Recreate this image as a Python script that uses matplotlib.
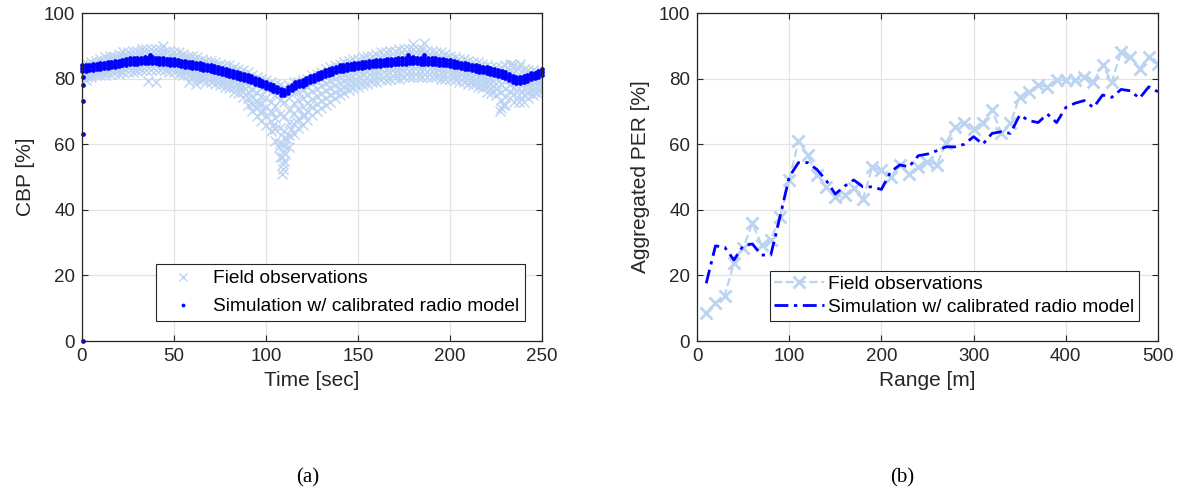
import numpy as np
import matplotlib
matplotlib.use("Agg")
import matplotlib.pyplot as plt

plt.rcParams['font.family'] = ['Liberation Sans', 'DejaVu Sans']

field_color = '#bcd4f2'
sim_color = '#0000ff'
ink = '#262626'

# ---- (a) CBP over time ----
# field observations, 6 samples every 2.5 s
field_time = np.arange(0, 250.1, 2.5)
field_cbp = [
    [80.5, 81.3, 82.0, 82.8, 83.4, 84.0],
    [80.6, 81.4, 82.2, 82.9, 83.8, 84.5],
    [80.5, 81.5, 82.4, 83.2, 84.1, 85.0],
    [81.0, 81.8, 82.7, 83.6, 84.6, 85.5],
    [81.1, 82.0, 83.0, 84.0, 85.0, 86.0],
    [81.0, 82.1, 83.2, 84.3, 85.4, 86.5],
    [81.5, 82.6, 83.7, 84.8, 85.9, 87.0],
    [81.6, 82.7, 83.8, 84.9, 86.0, 87.0],
    [81.5, 82.7, 83.9, 85.1, 86.3, 87.5],
    [82.0, 83.2, 84.4, 85.6, 86.8, 88.0],
    [82.1, 83.3, 84.5, 85.7, 86.9, 88.0],
    [82.0, 83.3, 84.6, 85.9, 87.2, 88.5],
    [82.2, 83.4, 84.7, 86.0, 87.3, 88.5],
    [82.5, 83.8, 85.1, 86.4, 87.7, 89.0],
    [82.6, 83.9, 85.2, 86.5, 87.8, 89.0],
    [82.5, 83.8, 85.1, 86.4, 87.7, 89.0],
    [82.7, 84.0, 85.3, 86.5, 87.8, 89.0],
    [82.5, 83.8, 85.0, 86.3, 87.7, 88.9],
    [82.5, 83.7, 84.9, 86.1, 87.3, 88.5],
    [82.0, 83.3, 84.6, 85.9, 87.2, 88.5],
    [82.1, 83.3, 84.5, 85.6, 86.8, 88.0],
    [81.5, 82.8, 84.1, 85.4, 86.7, 88.0],
    [81.0, 82.3, 83.6, 84.9, 86.2, 87.5],
    [81.1, 82.3, 83.5, 84.7, 85.9, 87.0],
    [80.5, 81.8, 83.1, 84.4, 85.7, 87.0],
    [80.0, 81.3, 82.6, 83.9, 85.2, 86.5],
    [79.5, 80.8, 82.1, 83.4, 84.7, 86.0],
    [79.1, 80.4, 81.6, 82.9, 84.2, 85.5],
    [79.0, 80.3, 81.6, 82.9, 84.2, 85.5],
    [78.5, 79.8, 81.1, 82.4, 83.7, 85.0],
    [78.0, 79.3, 80.6, 81.9, 83.2, 84.5],
    [77.5, 78.8, 80.1, 81.4, 82.7, 84.0],
    [77.1, 78.4, 79.8, 81.2, 82.6, 84.0],
    [76.0, 77.5, 79.0, 80.5, 82.0, 83.5],
    [75.5, 77.0, 78.5, 80.0, 81.5, 83.0],
    [74.5, 76.1, 77.7, 79.3, 80.9, 82.5],
    [72.0, 74.0, 76.0, 78.0, 80.0, 82.0],
    [70.0, 72.2, 74.4, 76.6, 78.8, 81.0],
    [68.5, 70.9, 73.3, 75.7, 78.1, 80.5],
    [67.0, 69.6, 72.2, 74.8, 77.4, 80.0],
    [66.0, 68.7, 71.4, 74.1, 76.8, 79.5],
    [64.0, 67.0, 70.0, 73.0, 76.0, 79.0],
    [61.0, 64.5, 68.0, 71.5, 75.0, 78.5],
    [56.0, 60.4, 64.8, 69.2, 73.6, 78.0],
    [55.0, 59.5, 64.0, 68.5, 73.0, 77.5],
    [59.0, 62.8, 66.6, 70.4, 74.2, 78.0],
    [63.0, 66.2, 69.4, 72.6, 75.8, 79.0],
    [65.0, 67.8, 70.6, 73.4, 76.2, 79.0],
    [66.0, 68.7, 71.4, 74.1, 76.8, 79.5],
    [67.5, 70.0, 72.5, 75.0, 77.5, 80.0],
    [69.0, 71.4, 73.8, 76.2, 78.6, 81.0],
    [70.0, 72.3, 74.6, 76.9, 79.2, 81.5],
    [71.0, 73.2, 75.4, 77.6, 79.8, 82.0],
    [72.0, 74.2, 76.4, 78.6, 80.8, 83.0],
    [73.0, 75.1, 77.2, 79.3, 81.4, 83.5],
    [74.0, 76.0, 78.0, 80.0, 82.0, 84.0],
    [75.0, 76.9, 78.8, 80.7, 82.6, 84.5],
    [75.5, 77.4, 79.3, 81.2, 83.1, 85.0],
    [76.5, 78.3, 80.1, 81.9, 83.7, 85.5],
    [77.0, 78.8, 80.6, 82.4, 84.2, 86.0],
    [77.5, 79.2, 80.9, 82.6, 84.3, 86.0],
    [78.0, 79.7, 81.4, 83.1, 84.8, 86.5],
    [78.5, 80.2, 81.9, 83.6, 85.3, 87.0],
    [79.0, 80.6, 82.2, 83.8, 85.4, 87.0],
    [79.0, 80.7, 82.4, 84.1, 85.8, 87.5],
    [79.5, 81.2, 82.9, 84.6, 86.3, 88.0],
    [79.6, 81.3, 83.0, 84.7, 86.4, 88.0],
    [80.0, 81.7, 83.4, 85.1, 86.8, 88.5],
    [80.1, 81.8, 83.5, 85.2, 86.9, 88.5],
    [80.0, 81.8, 83.6, 85.4, 87.2, 89.0],
    [80.5, 82.2, 83.9, 85.6, 87.3, 89.0],
    [80.6, 82.3, 84.0, 85.7, 87.4, 89.0],
    [80.5, 82.2, 83.9, 85.6, 87.3, 89.0],
    [80.6, 82.3, 84.0, 85.7, 87.4, 89.1],
    [80.5, 82.2, 83.9, 85.6, 87.3, 89.0],
    [80.5, 82.1, 83.7, 85.3, 86.9, 88.5],
    [80.6, 82.2, 83.8, 85.4, 87.0, 88.5],
    [80.5, 82.0, 83.5, 85.0, 86.5, 88.0],
    [80.0, 81.6, 83.2, 84.8, 86.4, 88.0],
    [80.0, 81.5, 83.0, 84.5, 86.0, 87.5],
    [80.0, 81.4, 82.8, 84.2, 85.6, 87.0],
    [79.5, 80.9, 82.3, 83.7, 85.1, 86.5],
    [79.0, 80.4, 81.8, 83.2, 84.6, 86.0],
    [79.1, 80.5, 81.9, 83.2, 84.6, 86.0],
    [78.5, 79.9, 81.3, 82.7, 84.1, 85.5],
    [78.0, 79.4, 80.8, 82.2, 83.6, 85.0],
    [77.5, 79.0, 80.5, 82.0, 83.5, 85.0],
    [77.0, 78.5, 80.0, 81.5, 83.0, 84.5],
    [76.0, 77.6, 79.2, 80.8, 82.4, 84.0],
    [75.5, 77.1, 78.7, 80.3, 81.9, 83.5],
    [75.0, 76.7, 78.4, 80.1, 81.8, 83.5],
    [71.0, 73.5, 76.0, 78.5, 81.0, 83.5],
    [72.0, 74.4, 76.8, 79.2, 81.6, 84.0],
    [74.0, 76.0, 78.0, 80.0, 82.0, 84.0],
    [73.0, 75.2, 77.4, 79.6, 81.8, 84.0],
    [73.0, 75.1, 77.2, 79.3, 81.4, 83.5],
    [73.0, 75.0, 77.0, 79.0, 81.0, 83.0],
    [74.0, 75.7, 77.4, 79.1, 80.8, 82.5],
    [75.0, 76.5, 78.0, 79.5, 81.0, 82.5],
    [75.5, 76.8, 78.1, 79.4, 80.7, 82.0],
    [76.0, 77.2, 78.4, 79.6, 80.8, 82.0],
]
# scattered field samples off the main band
field_extra_time = [108.5, 109.0, 109.5, 108.8, 109.3, 109.0, 109.6, 110.5, 107.0, 111.5,
                    104.0, 113.5, 103.0, 116.5, 98.0, 121.0, 95.5, 124.0, 36.0, 40.0,
                    58.0, 62.0, 180.0, 186.0, 227.0, 229.0, 233.0, 238.0, 2.0, 44.0]
field_extra_cbp = [51.0, 52.5, 54.0, 56.0, 58.0, 60.0, 62.0, 57.0, 59.0, 61.5,
                   66.0, 64.5, 69.5, 67.0, 70.5, 69.0, 72.5, 72.0, 79.2, 79.0,
                   79.0, 78.5, 90.5, 90.8, 70.0, 72.0, 84.5, 84.6, 79.5, 90.0]

# simulation, 3 nodes every 2 s
sim_time = np.arange(0, 251, 2)
sim_cbp = [
    [82.4, 83.2, 84.0], [82.4, 83.3, 84.2], [82.6, 83.4, 84.3], [82.6, 83.5, 84.4],
    [82.8, 83.7, 84.5], [82.9, 83.8, 84.7], [83.1, 84.0, 84.8], [83.2, 84.1, 85.0],
    [83.4, 84.3, 85.1], [83.6, 84.5, 85.4], [83.8, 84.7, 85.5], [84.0, 84.9, 85.8],
    [84.3, 85.2, 86.0], [84.5, 85.4, 86.3], [84.6, 85.5, 86.3], [84.6, 85.5, 86.4],
    [84.7, 85.6, 86.4], [84.7, 85.6, 86.5], [84.8, 85.6, 86.4], [84.7, 85.6, 86.5],
    [84.7, 85.6, 86.4], [84.6, 85.5, 86.4], [84.6, 85.4, 86.3], [84.4, 85.3, 86.1],
    [84.3, 85.2, 86.1], [84.2, 85.1, 85.9], [84.0, 84.9, 85.8], [83.8, 84.7, 85.5],
    [83.6, 84.5, 85.4], [83.5, 84.4, 85.2], [83.3, 84.2, 85.1], [83.1, 84.0, 84.8],
    [82.9, 83.8, 84.7], [82.7, 83.6, 84.4], [82.5, 83.4, 84.3], [82.3, 83.2, 84.0],
    [82.1, 83.0, 83.9], [81.8, 82.7, 83.5], [81.5, 82.4, 83.3], [81.2, 82.1, 82.9],
    [80.9, 81.8, 82.7], [80.6, 81.5, 82.3], [80.3, 81.2, 82.1], [80.0, 80.9, 81.7],
    [79.7, 80.6, 81.5], [79.4, 80.3, 81.1], [79.0, 79.9, 80.8], [78.5, 79.4, 80.2],
    [78.1, 79.0, 79.9], [77.6, 78.5, 79.3], [77.2, 78.1, 79.0], [76.8, 77.7, 78.5],
    [76.3, 77.2, 78.1], [75.8, 76.7, 77.5], [75.1, 76.0, 76.9], [74.9, 75.8, 76.6],
    [75.6, 76.5, 77.4], [76.4, 77.3, 78.1], [77.1, 78.0, 78.9], [77.6, 78.5, 79.3],
    [77.9, 78.8, 79.7], [78.4, 79.3, 80.1], [78.9, 79.8, 80.7], [79.3, 80.2, 81.0],
    [79.8, 80.7, 81.6], [80.3, 81.2, 82.0], [80.7, 81.6, 82.5], [81.1, 82.0, 82.8],
    [81.5, 82.4, 83.3], [81.9, 82.8, 83.6], [82.2, 83.1, 84.0], [82.4, 83.3, 84.1],
    [82.6, 83.5, 84.4], [82.8, 83.7, 84.5], [83.0, 83.9, 84.8], [83.1, 84.0, 84.8],
    [83.2, 84.1, 85.0], [83.4, 84.3, 85.1], [83.5, 84.4, 85.3], [83.7, 84.6, 85.4],
    [83.8, 84.7, 85.6], [83.9, 84.8, 85.6], [84.0, 84.9, 85.8], [84.2, 85.1, 85.9],
    [84.3, 85.2, 86.1], [84.4, 85.3, 86.1], [84.5, 85.4, 86.3], [84.6, 85.5, 86.3],
    [84.6, 85.5, 86.4], [84.7, 85.6, 86.4], [84.7, 85.6, 86.5], [84.7, 85.6, 86.4],
    [84.6, 85.5, 86.4], [84.6, 85.5, 86.3], [84.5, 85.4, 86.3], [84.5, 85.4, 86.2],
    [84.4, 85.3, 86.2], [84.3, 85.2, 86.0], [84.1, 85.0, 85.9], [84.0, 84.9, 85.7],
    [83.8, 84.7, 85.6], [83.6, 84.5, 85.3], [83.4, 84.3, 85.2], [83.2, 84.1, 84.9],
    [83.0, 83.9, 84.8], [82.8, 83.7, 84.5], [82.5, 83.4, 84.3], [82.3, 83.2, 84.0],
    [82.1, 83.0, 83.9], [81.9, 82.8, 83.6], [81.7, 82.6, 83.5], [81.5, 82.4, 83.2],
    [81.2, 82.1, 83.0], [80.9, 81.8, 82.6], [80.6, 81.5, 82.4], [80.3, 81.2, 82.0],
    [79.7, 80.6, 81.5], [79.1, 80.0, 80.8], [78.6, 79.5, 80.4], [78.8, 79.7, 80.5],
    [79.1, 80.0, 80.9], [79.4, 80.3, 81.1], [79.8, 80.7, 81.6], [80.1, 81.0, 81.8],
    [80.6, 81.5, 82.4], [81.1, 82.0, 82.8],
]
# start-up transient and a few stray nodes
sim_extra_time = [0.3, 0.3, 0.3, 0.3, 0.3, 37.0, 177.0, 186.0]
sim_extra_cbp = [0.0, 63.2, 73.2, 78.0, 80.5, 87.3, 87.2, 87.1]

# ---- (b) aggregated PER over range ----
range_m = np.arange(10, 501, 10)
field_per = [8.6, 11.5, 13.8, 23.7, 28.3, 35.9, 29.3, 30.8, 37.9, 49.0,
             61.0, 56.7, 50.6, 47.0, 43.8, 44.5, 46.5, 43.3, 53.0, 52.0,
             50.0, 53.7, 51.0, 53.0, 54.7, 53.7, 60.5, 65.3, 66.4, 64.5,
             66.4, 70.4, 63.5, 66.5, 74.5, 76.0, 78.0, 77.5, 79.6, 79.6,
             79.6, 80.4, 79.0, 84.0, 79.0, 88.2, 86.7, 83.0, 86.7, 84.5]
sim_per = [17.6, 29.0, 28.6, 24.7, 29.0, 29.6, 26.2, 26.2, 37.9, 50.0,
           54.4, 54.4, 52.3, 49.0, 44.8, 47.2, 49.1, 47.0, 47.0, 46.2,
           51.6, 53.7, 53.1, 56.5, 57.0, 58.0, 59.2, 59.2, 60.0, 62.3,
           60.0, 63.3, 63.8, 63.3, 68.9, 67.2, 66.6, 69.2, 66.6, 71.2,
           72.5, 73.3, 71.2, 75.0, 74.3, 76.7, 76.3, 74.0, 77.5, 76.0]


def style_axes(ax):
    ax.grid(True, color='#e3e3e3', linewidth=0.9)
    ax.set_axisbelow(True)
    for sp in ax.spines.values():
        sp.set_color(ink)
        sp.set_linewidth(0.9)
    ax.tick_params(direction='in', length=4, width=0.8, colors=ink,
                   labelsize=13.5, top=True, right=True, pad=5)
    ax.set_ylim(0, 100)
    ax.set_yticks([0, 20, 40, 60, 80, 100])


fig = plt.figure(figsize=(11.78, 4.95), dpi=100)
ax1 = fig.add_axes([0.0696, 0.3111, 0.3905, 0.6626])
ax2 = fig.add_axes([0.5917, 0.3111, 0.3913, 0.6626])

# (a)
ft = np.repeat(field_time, 6)
fv = np.array(field_cbp).ravel()
ax1.plot(np.r_[ft, field_extra_time], np.r_[fv, field_extra_cbp], 'x',
         color=field_color, markersize=7, markeredgewidth=1.0,
         label='Field observations')
st = np.repeat(sim_time, 3)
sv = np.array(sim_cbp).ravel()
ax1.plot(np.r_[st, sim_extra_time], np.r_[sv, sim_extra_cbp], 'o',
         color=sim_color, markersize=3.4, markeredgewidth=0,
         label='Simulation w/ calibrated radio model', clip_on=False)
style_axes(ax1)
ax1.set_xlim(0, 250)
ax1.set_xticks([0, 50, 100, 150, 200, 250])
ax1.set_xlabel('Time [sec]', fontsize=15, color=ink, labelpad=4)
ax1.set_ylabel('CBP [%]', fontsize=15, color=ink, labelpad=6)
leg1 = ax1.legend(loc='lower right', bbox_to_anchor=(0.963, 0.061),
                  fontsize=13.8, frameon=True, fancybox=False, framealpha=1,
                  edgecolor=ink, borderaxespad=0, borderpad=0.3,
                  handlelength=2.3, handletextpad=0.4, labelspacing=0.55,
                  markerscale=0.8)
leg1.get_frame().set_linewidth(0.8)

# (b)
ax2.plot(range_m, field_per, '--x', color=field_color, linewidth=1.6,
         markersize=8, markeredgewidth=2.0, label='Field observations')
ax2.plot(range_m, sim_per, '-.', color=sim_color, linewidth=2.0,
         dashes=(5, 2, 1.2, 2), label='Simulation w/ calibrated radio model')
style_axes(ax2)
ax2.set_xlim(0, 500)
ax2.set_xticks([0, 100, 200, 300, 400, 500])
ax2.set_xlabel('Range [m]', fontsize=15, color=ink, labelpad=4)
ax2.set_ylabel('Aggregated PER [%]', fontsize=15, color=ink, labelpad=6)
leg2 = ax2.legend(loc='lower right', bbox_to_anchor=(0.959, 0.061),
                  fontsize=13.8, frameon=True, fancybox=False, framealpha=1,
                  edgecolor=ink, borderaxespad=0, borderpad=0.25,
                  handlelength=2.6, handletextpad=0.2, labelspacing=0.3,
                  numpoints=1)
leg2.get_frame().set_linewidth(0.8)

fig.text(0.2615, 0.034, '(a)', family=['Liberation Serif', 'DejaVu Serif'],
         fontsize=15, ha='center', va='center')
fig.text(0.7657, 0.034, '(b)', family=['Liberation Serif', 'DejaVu Serif'],
         fontsize=15, ha='center', va='center')

fig.savefig('out.png', dpi=100)
